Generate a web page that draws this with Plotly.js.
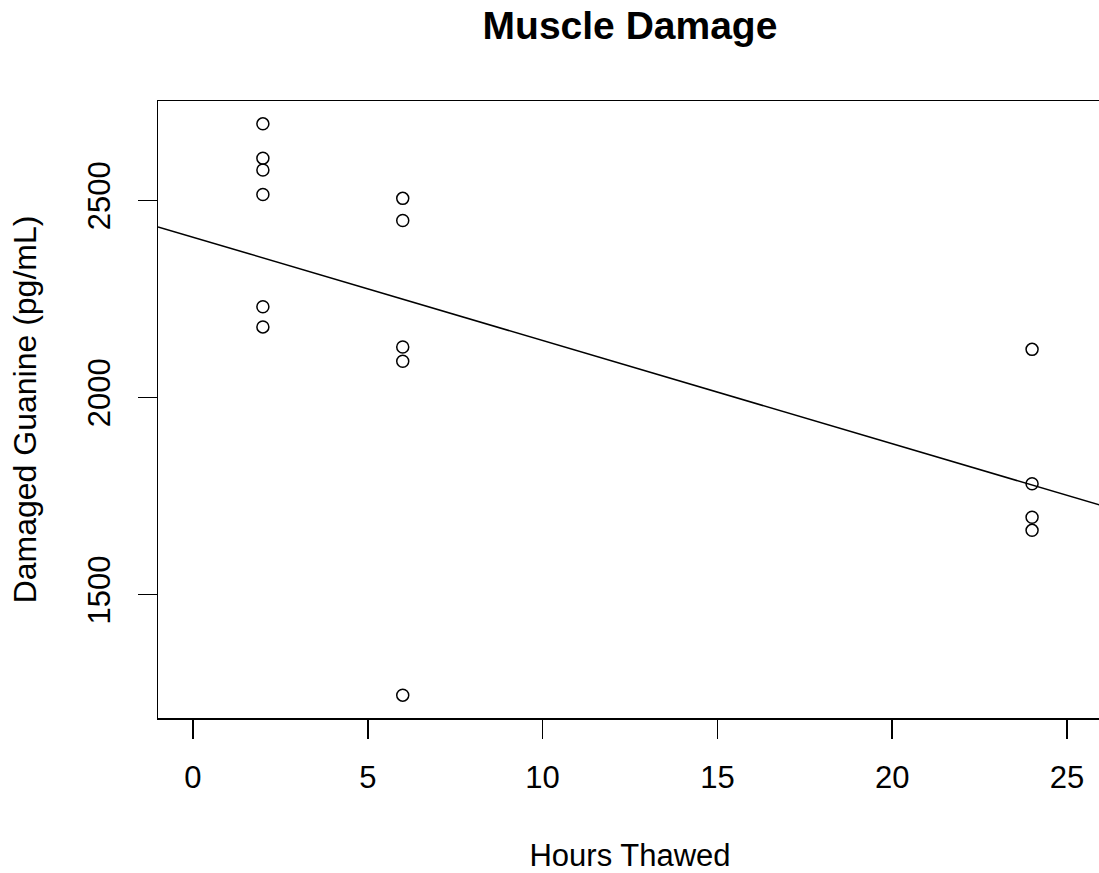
<!DOCTYPE html>
<html>
<head>
<meta charset="utf-8">
<script src="https://cdn.plot.ly/plotly-3.0.1.min.js"></script>
<style>
html, body { margin: 0; padding: 0; overflow: hidden; background: #fff; width: 1099px; height: 873px; }
#chart { width: 1130px; height: 873px; }
</style>
</head>
<body>
<div id="chart"></div>
<script>
// Data
const hoursThawed = [2, 2, 2, 2, 2, 2, 6, 6, 6, 6, 6, 24, 24, 24, 24];
const damagedGuanine = [2694, 2607, 2577, 2515, 2230, 2179, 2505, 2449, 2128, 2092, 1245, 2122, 1781, 1696, 1663];
const xTicks = [0, 5, 10, 15, 20, 25];
const yTicks = [1500, 2000, 2500];
const xLimits = [0, 25];

// least-squares fit (like R's abline(lm(y ~ x)))
const n = hoursThawed.length;
const mx = hoursThawed.reduce((a, b) => a + b, 0) / n;
const my = damagedGuanine.reduce((a, b) => a + b, 0) / n;
let sxy = 0, sxx = 0;
for (let i = 0; i < n; i++) {
  sxy += (hoursThawed[i] - mx) * (damagedGuanine[i] - my);
  sxx += (hoursThawed[i] - mx) ** 2;
}
const slope = sxy / sxx;
const intercept = my - slope * mx;

// R-style 4% axis extension
const xPad = (xLimits[1] - xLimits[0]) * 0.04;
const xRange = [xLimits[0] - xPad, xLimits[1] + xPad];
const yMin = Math.min(...damagedGuanine), yMax = Math.max(...damagedGuanine);
const yPad = (yMax - yMin) * 0.04;
const yRange = [yMin - yPad, yMax + yPad];

const fitX = [xRange[0], xRange[1]];
const fitY = fitX.map(x => intercept + slope * x);

const font = "Liberation Sans, Arial, Helvetica, sans-serif";

const traces = [
  {
    x: hoursThawed, y: damagedGuanine, type: 'scatter', mode: 'markers',
    marker: { symbol: 'circle-open', size: 12, color: '#000', line: { width: 1.5, color: '#000' } },
    hoverinfo: 'x+y', showlegend: false, cliponaxis: false
  },
  {
    x: fitX, y: fitY, type: 'scatter', mode: 'lines',
    line: { color: '#000', width: 1.5 }, hoverinfo: 'skip', showlegend: false
  }
];

const layout = {
  width: 1130, height: 873,
  margin: { l: 158, r: 28, t: 101, b: 155, pad: 0 },
  paper_bgcolor: '#fff', plot_bgcolor: '#fff',
  font: { family: font, color: '#000', size: 31 },
  title: {
    text: '<b>Muscle Damage</b>',
    font: { family: font, size: 39, color: '#000' },
    x: 0.5, xref: 'paper', xanchor: 'center',
    y: 1 - 25 / 873, yref: 'container', yanchor: 'middle'
  },
  xaxis: {
    range: xRange, tickvals: xTicks, ticktext: xTicks.map(String),
    showgrid: false, zeroline: false,
    showline: true, mirror: true, linecolor: '#000', linewidth: 1.5,
    ticks: 'outside', ticklen: 19, tickwidth: 1.5, tickcolor: '#000',
    tickfont: { family: font, size: 31, color: '#000' },
    ticklabelstandoff: 12,
    title: { text: 'Hours Thawed', font: { family: font, size: 31, color: '#000' }, standoff: 54 }
  },
  yaxis: {
    range: yRange, tickvals: yTicks, ticktext: yTicks.map(String),
    showgrid: false, zeroline: false,
    showline: true, mirror: true, linecolor: '#000', linewidth: 1.5,
    ticks: 'outside', ticklen: 19, tickwidth: 1.5, tickcolor: '#000',
    tickangle: -90,
    tickfont: { family: font, size: 31, color: '#000' },
    ticklabelstandoff: 15,
    title: { text: 'Damaged Guanine (pg/mL)', font: { family: font, size: 32, color: '#000' }, standoff: 36 }
  }
};

Plotly.newPlot('chart', traces, layout, { displayModeBar: false, staticPlot: true });
</script>
</body>
</html>
